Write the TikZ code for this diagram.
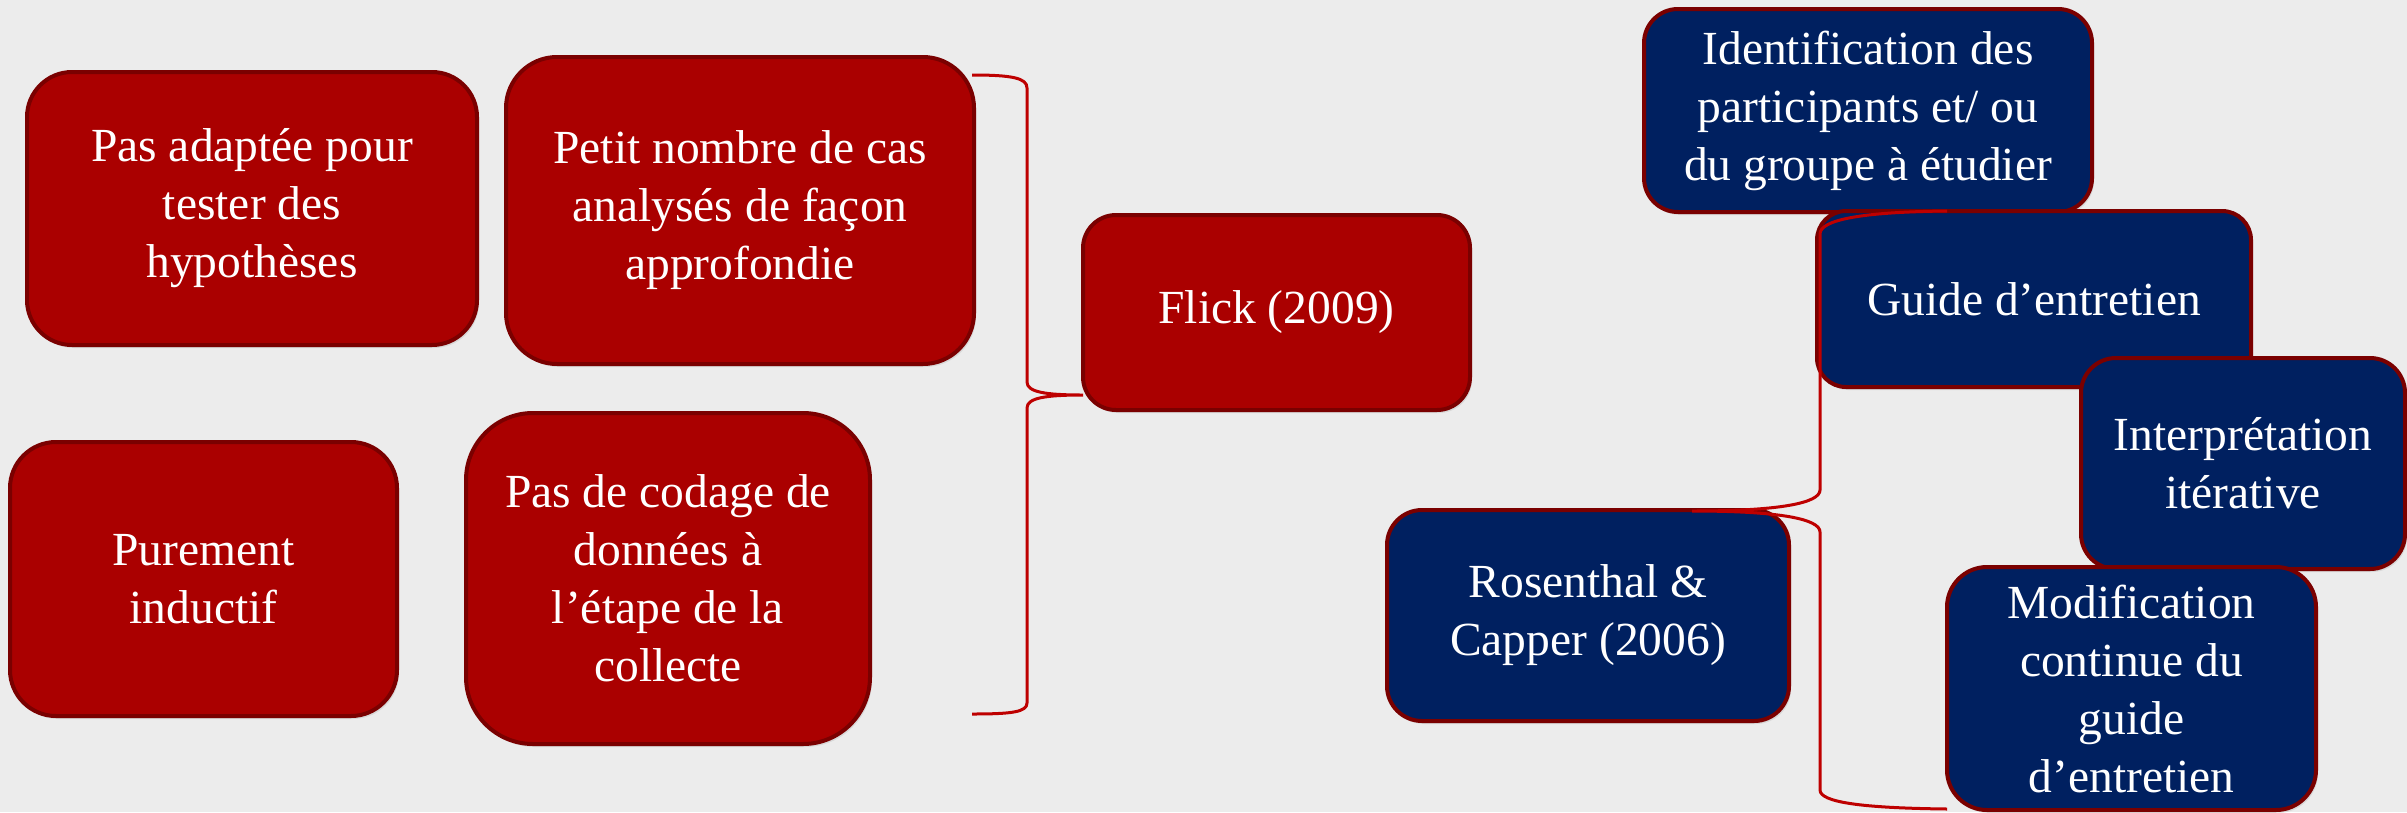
\documentclass[tikz,border=0pt]{standalone}
\usepackage{fontspec}
\setmainfont{Liberation Serif}
\usetikzlibrary{shadows}
\definecolor{bgc}{RGB}{236,236,236}
\definecolor{redf}{RGB}{170,0,0}
\definecolor{bluef}{RGB}{0,32,96}
\definecolor{bord}{RGB}{122,0,0}
\definecolor{bracec}{RGB}{190,0,0}
\tikzset{
  box/.style={draw=bord, line width=4pt, text=white, align=center, inner sep=0pt,
    font=\fontsize{47.5pt}{58pt}\selectfont,
    drop shadow={opacity=0.18, shadow xshift=2pt, shadow yshift=-3pt}},
  redbox/.style={box, fill=redf},
  bluebox/.style={box, fill=bluef},
  sz/.style n args={3}{minimum width=#1pt, minimum height=#2pt, rounded corners=#3pt},
  bracestyle/.style={draw=bracec, line width=3pt}
}
\begin{document}
\begin{tikzpicture}[x=1pt,y=-1pt]
\fill[bgc] (0,0) rectangle (2407,812);
\useasboundingbox (0,0) rectangle (2407,812);

% left group
\node[redbox, sz={450}{273}{45}] (b1) at (252,208.5) {Pas adaptée pour\\tester des\\hypothèses};
\node[redbox, sz={468}{307}{51}] (b2) at (740,210.5) {Petit nombre de cas\\analysés de façon\\approfondie};
\node[redbox, sz={387}{274}{46}] (b3) at (203.5,579) {Purement\\inductif};
\node[redbox, sz={404}{331}{67}] (b4) at (668,578.5) {Pas de codage de\\données à\\l’étape de la\\collecte};
\node[redbox, sz={387}{195}{33}] (flick) at (1276.5,312.5) {Flick (2009)};

% left brace
\coordinate (lbt) at (972,75);
\coordinate (lbtip) at (1083,395);
\coordinate (lbb) at (972,714);
\draw[bracestyle] (lbt) .. controls (1012,75) and (1027,78) .. (1027,88)
  -- (1027,382) .. controls (1027,392) and (1045,395) .. (lbtip)
  .. controls (1045,395) and (1027,398) .. (1027,408)
  -- (1027,703) .. controls (1027,712) and (1012,714) .. (lbb);

% right group
\node[bluebox, sz={448}{203}{34}] (ident) at (1868,110.5) {Identification des\\participants et/ ou\\du groupe à étudier};
\node[bluebox, sz={434}{176}{29}] (guide) at (2034,299) {Guide d’entretien};
\node[bluebox, sz={324}{211}{35}] (interp) at (2243,463.5) {Interprétation\\itérative};
\node[bluebox, sz={369}{243}{40}] (modif) at (2131.5,688.5) {Modification\\continue du\\guide\\d’entretien};
\node[bluebox, sz={402}{211}{35}] (ros) at (1588,615.5) {Rosenthal \&\\Capper (2006)};

% right brace
\coordinate (rbt) at (1947,211);
\coordinate (rbtip) at (1692,511);
\coordinate (rbb) at (1947,809);
\draw[bracestyle] (rbt) .. controls (1860,212) and (1820,220) .. (1820,234)
  -- (1820,490) .. controls (1820,503) and (1780,511) .. (rbtip)
  .. controls (1780,511) and (1820,519) .. (1820,532)
  -- (1820,790) .. controls (1820,802) and (1860,808) .. (rbb);
\end{tikzpicture}
\end{document}
